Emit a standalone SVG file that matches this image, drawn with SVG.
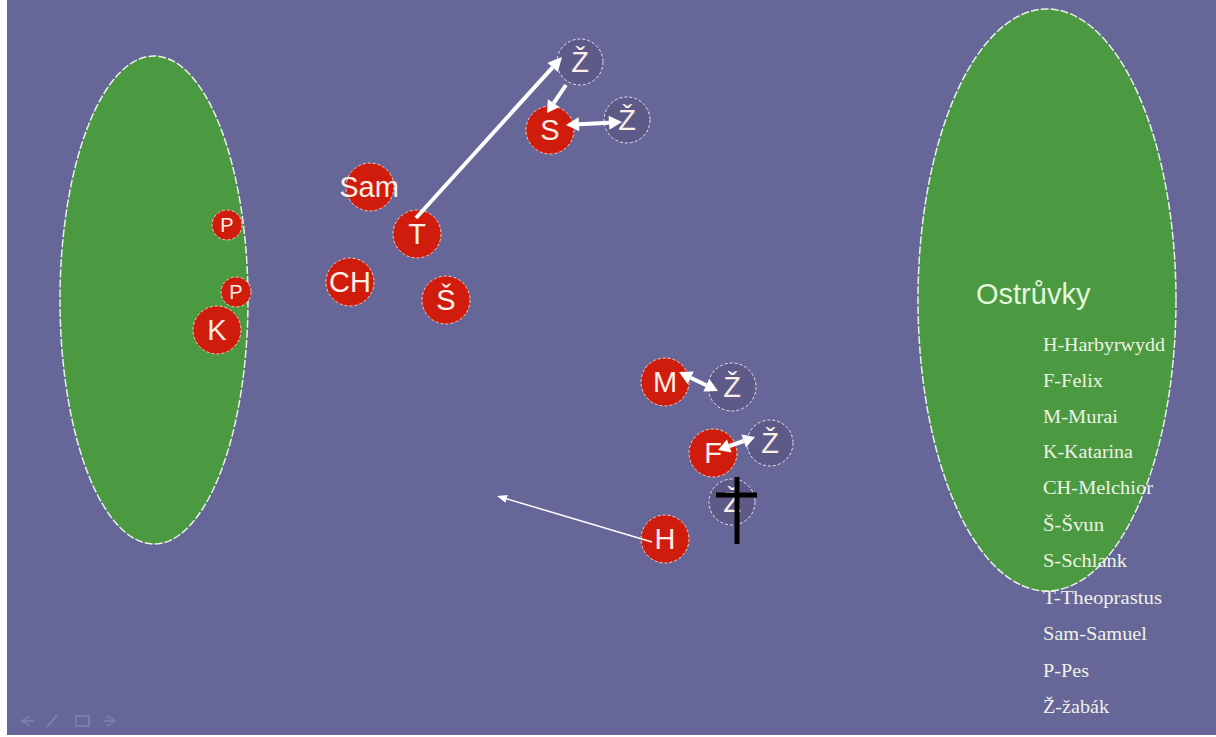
<svg xmlns="http://www.w3.org/2000/svg" width="1216" height="737" viewBox="0 0 1216 737">
<style>
.island{fill:#4b9a41;stroke:#e8f0e8;stroke-width:1.5;stroke-dasharray:8 2}
.red{fill:#d01c0c;stroke:#f2cfc0;stroke-width:1;stroke-dasharray:3 2}
.frog{fill:#5e5a88;stroke:#e6e4f0;stroke-width:1;stroke-dasharray:3 2}
.lbl{font-family:"Liberation Sans",Arial,sans-serif;font-size:29px;fill:#fbeee6;text-anchor:middle}
.small{font-size:20px}
.legend{font-family:"Liberation Serif","Times New Roman",serif;font-size:18px;fill:#eef2e6}
.title{font-family:"Liberation Sans",Arial,sans-serif;font-size:29px;fill:#e4f6dc}
.conn{stroke:#ffffff;fill:none;stroke-width:4}
.thin{stroke-width:1.5}
.head{fill:#ffffff;stroke:none}
.nav{fill:none;stroke:#8282b0;stroke-width:2;opacity:0.8}
</style>
<rect x="0" y="0" width="1216" height="737" fill="#ffffff"/>
<rect x="7" y="0" width="1209" height="735" fill="#666699"/>

<g id="island-left"><ellipse class="island" cx="154" cy="300" rx="94" ry="244"/></g>
<g id="island-right"><ellipse class="island" cx="1047" cy="300" rx="129" ry="291"/></g>

<g id="node-P1"><circle class="red" cx="227" cy="225" r="15"/><text class="lbl small" x="227" y="232">P</text></g>
<g id="node-P2"><circle class="red" cx="236" cy="292" r="15"/><text class="lbl small" x="236" y="299">P</text></g>
<g id="node-K"><circle class="red" cx="217" cy="330" r="24"/><text class="lbl" x="217" y="340">K</text></g>
<g id="node-Sam"><circle class="red" cx="370" cy="187" r="24"/><text class="lbl" x="369" y="197">Sam</text></g>
<g id="node-T"><circle class="red" cx="417" cy="234" r="24"/><text class="lbl" x="417" y="244">T</text></g>
<g id="node-CH"><circle class="red" cx="350" cy="282" r="24"/><text class="lbl" x="350" y="292">CH</text></g>
<g id="node-Sv"><circle class="red" cx="446" cy="300" r="24"/><text class="lbl" x="446" y="310">Š</text></g>
<g id="node-Z1"><circle class="frog" cx="580" cy="62" r="23"/><text class="lbl" x="580" y="72">Ž</text></g>
<g id="node-S"><circle class="red" cx="550" cy="130" r="24"/><text class="lbl" x="550" y="140">S</text></g>
<g id="node-Z2"><circle class="frog" cx="627" cy="120" r="23"/><text class="lbl" x="627" y="130">Ž</text></g>
<g id="node-M"><circle class="red" cx="665" cy="382" r="24"/><text class="lbl" x="665" y="392">M</text></g>
<g id="node-Z3"><circle class="frog" cx="732" cy="387" r="24"/><text class="lbl" x="732" y="397">Ž</text></g>
<g id="node-F"><circle class="red" cx="713" cy="453" r="24"/><text class="lbl" x="713" y="463">F</text></g>
<g id="node-Z4"><circle class="frog" cx="770" cy="443" r="23"/><text class="lbl" x="770" y="453">Ž</text></g>
<g id="node-Z5"><circle class="frog" cx="732" cy="502" r="23"/><text class="lbl" x="732" y="512">Ž</text>
<line x1="737" y1="477" x2="737" y2="544" stroke="#000000" stroke-width="5"/>
<line x1="716" y1="495" x2="757" y2="495" stroke="#000000" stroke-width="5"/></g>
<g id="node-H"><circle class="red" cx="665" cy="539" r="24"/><text class="lbl" x="665" y="549">H</text></g>

<g id="connectors">
<line class="conn" x1="416" y1="218" x2="552.6" y2="67.4"/>
<polygon class="head" points="562,57 557.8,72.1 547.4,62.7"/>
<line class="conn" x1="566" y1="85" x2="553.7" y2="103.1"/>
<polygon class="head" points="547,113 559.5,107.0 547.9,99.2"/>
<line class="conn" x1="579" y1="124.3" x2="609" y2="122.7"/>
<polygon class="head" points="622,122 609.4,129.7 608.6,115.7"/>
<polygon class="head" points="566,125 579.4,131.3 578.6,117.3"/>
<line class="conn" x1="690.7" y1="377.7" x2="706.3" y2="385.3"/>
<polygon class="head" points="718,391 703.3,391.6 709.4,379.0"/>
<polygon class="head" points="679,372 687.6,384.0 693.8,371.4"/>
<line class="conn" x1="729.3" y1="446" x2="743.7" y2="441"/>
<polygon class="head" points="755,437 746.0,447.6 741.4,434.4"/>
<polygon class="head" points="718,450 731.6,452.6 727.0,439.4"/>
<line class="conn thin" x1="652" y1="542" x2="506.6" y2="498.8"/>
<polygon class="head" points="497,496 507.7,495.0 505.5,502.7"/>
</g>

<g id="legend">
<text class="title" x="976" y="304">Ostrůvky</text>
<text class="legend" x="1043" y="351" textLength="122" lengthAdjust="spacingAndGlyphs">H-Harbyrwydd</text>
<text class="legend" x="1043" y="387" textLength="60" lengthAdjust="spacingAndGlyphs">F-Felix</text>
<text class="legend" x="1043" y="423" textLength="75" lengthAdjust="spacingAndGlyphs">M-Murai</text>
<text class="legend" x="1043" y="458" textLength="90" lengthAdjust="spacingAndGlyphs">K-Katarina</text>
<text class="legend" x="1043" y="494" textLength="110" lengthAdjust="spacingAndGlyphs">CH-Melchior</text>
<text class="legend" x="1043" y="531" textLength="61" lengthAdjust="spacingAndGlyphs">Š-Švun</text>
<text class="legend" x="1043" y="567" textLength="84" lengthAdjust="spacingAndGlyphs">S-Schlank</text>
<text class="legend" x="1043" y="604" textLength="119" lengthAdjust="spacingAndGlyphs">T-Theoprastus</text>
<text class="legend" x="1043" y="640" textLength="104" lengthAdjust="spacingAndGlyphs">Sam-Samuel</text>
<text class="legend" x="1043" y="677" textLength="46" lengthAdjust="spacingAndGlyphs">P-Pes</text>
<text class="legend" x="1043" y="713" textLength="66" lengthAdjust="spacingAndGlyphs">Ž-žabák</text>
</g>

<g id="nav">
<path class="nav" d="M30,716 L22,721 L30,726 M22,721 L34,721"/>
<path class="nav" d="M47,727 L57,715"/>
<rect class="nav" x="76" y="716" width="13" height="10"/>
<path class="nav" d="M107,716 L115,721 L107,726 M104,721 L115,721"/>
</g>
</svg>
